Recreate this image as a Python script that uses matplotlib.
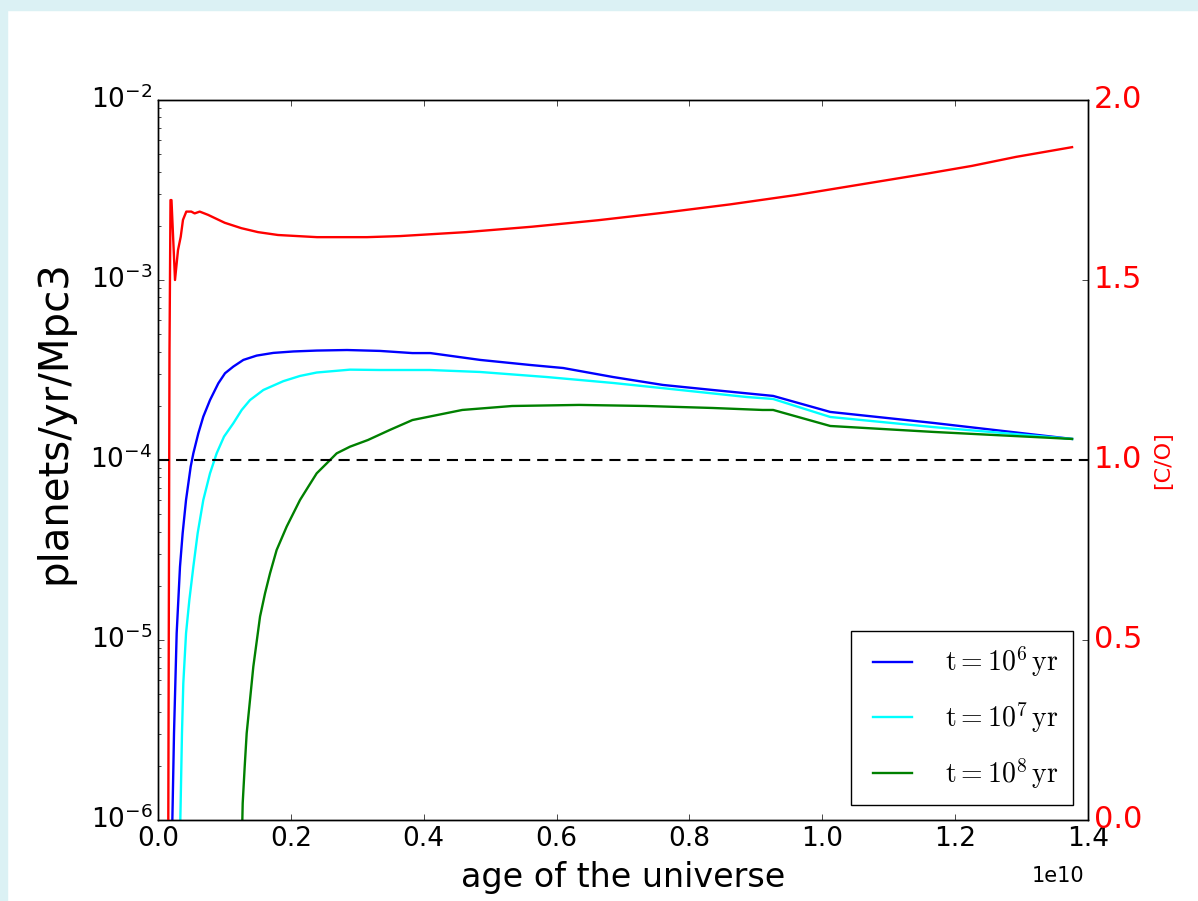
import numpy as np
import matplotlib
matplotlib.use("Agg")
import matplotlib.pyplot as plt
from matplotlib.patches import Rectangle

plt.style.use("classic")
plt.rcParams.update({"mathtext.fontset": "cm", "axes.unicode_minus": False,
                     "font.family": "DejaVu Sans"})

# age of the universe in units of 1e10 yr, rate as log10(planets/yr/Mpc3)
t6_age = [0.020, 0.0221, 0.0241, 0.0281, 0.0331, 0.0371, 0.0422, 0.0492, 0.0532,
          0.0607, 0.0682, 0.0783, 0.0908, 0.1009, 0.1134, 0.1285, 0.1485, 0.1736,
          0.2037, 0.2389, 0.2845, 0.3342, 0.383, 0.41, 0.485, 0.560, 0.610, 0.685,
          0.760, 0.835, 0.926, 1.012, 1.167, 1.376]
t6_log = [-6.3, -5.907, -5.518, -4.963, -4.593, -4.407, -4.222, -4.037, -3.963,
          -3.852, -3.759, -3.667, -3.574, -3.518, -3.481, -3.444, -3.42, -3.405,
          -3.397, -3.392, -3.389, -3.394, -3.406, -3.406, -3.444, -3.472, -3.489,
          -3.539, -3.583, -3.611, -3.644, -3.733, -3.794, -3.883]

t7_age = [0.032, 0.0341, 0.0361, 0.0381, 0.0422, 0.0472, 0.0532, 0.0597, 0.0682,
          0.0783, 0.0883, 0.0994, 0.1134, 0.126, 0.1385, 0.1586, 0.1887, 0.2138,
          0.2389, 0.289, 0.334, 0.409, 0.485, 0.585, 0.685, 0.786, 0.886, 0.926,
          1.012, 1.167, 1.376]
t7_log = [-6.3, -5.907, -5.518, -5.241, -4.963, -4.778, -4.593, -4.407, -4.222,
          -4.074, -3.963, -3.87, -3.796, -3.722, -3.667, -3.611, -3.562, -3.533,
          -3.514, -3.498, -3.50, -3.50, -3.511, -3.539, -3.572, -3.611, -3.65,
          -3.661, -3.761, -3.817, -3.883]

t8_age = [0.124, 0.1275, 0.1305, 0.1335, 0.1385, 0.1435, 0.1536, 0.1611, 0.1686,
          0.1786, 0.1937, 0.2138, 0.2263, 0.2389, 0.2539, 0.269, 0.289, 0.316,
          0.349, 0.383, 0.458, 0.533, 0.634, 0.735, 0.835, 0.910, 0.926, 1.012,
          1.167, 1.376]
t8_log = [-6.5, -5.907, -5.704, -5.518, -5.333, -5.148, -4.870, -4.741, -4.630,
          -4.5, -4.370, -4.222, -4.148, -4.074, -4.019, -3.963, -3.926, -3.889,
          -3.833, -3.778, -3.722, -3.70, -3.694, -3.70, -3.711, -3.722, -3.722,
          -3.811, -3.844, -3.883]

co_age = [0.0155, 0.0173, 0.0188, 0.0203, 0.0256, 0.0301, 0.0342, 0.0376, 0.0426,
          0.0501, 0.0552, 0.0628, 0.0753, 0.1004, 0.1254, 0.1505, 0.1806, 0.2394,
          0.3146, 0.3643, 0.4637, 0.563, 0.6624, 0.7617, 0.8611, 0.9604, 1.0598,
          1.1592, 1.2254, 1.2917, 1.376]
co_val = [0.0, 1.3, 1.722, 1.722, 1.5, 1.583, 1.62, 1.667, 1.69, 1.69, 1.685,
          1.69, 1.681, 1.659, 1.644, 1.633, 1.625, 1.619, 1.619, 1.622, 1.633,
          1.648, 1.666, 1.687, 1.710, 1.736, 1.766, 1.796, 1.817, 1.842, 1.869]

series = [(t6_age, t6_log, "#0000FF", r"$\mathrm{t=10^6\,yr}$"),
          (t7_age, t7_log, "#00FFFF", r"$\mathrm{t=10^7\,yr}$"),
          (t8_age, t8_log, "#008000", r"$\mathrm{t=10^8\,yr}$")]

fig = plt.figure(figsize=(11.98, 9.01), dpi=100, facecolor="white")
fig.patches.append(Rectangle((0, 1 - 10 / 901), 1, 10 / 901, transform=fig.transFigure,
                             color="#DBF1F4", zorder=0))
fig.patches.append(Rectangle((0, 0), 7 / 1198, 1, transform=fig.transFigure,
                             color="#DBF1F4", zorder=0))
ax = fig.add_axes([158 / 1198, 81 / 901, 930 / 1198, 720 / 901])

for age, lg, col, lab in series:
    ax.plot(np.array(age) * 1e10, 10 ** np.array(lg), color=col, lw=1.7, label=lab)
ax.set_yscale("log")
ax.set_ylim(1e-6, 1e-2)
ax.set_xlim(0, 1.4e10)
ax.set_xlabel("age of the universe", fontsize=24, labelpad=7)
ax.set_ylabel("planets/yr/Mpc3", fontsize=29)
ax.yaxis.set_label_coords(-0.09, 0.553)
ax.tick_params(labelsize=19)
ax.xaxis.get_offset_text().set_visible(False)
fig.text(1058 / 1198, 1 - 876 / 901, "1e10", fontsize=15, ha="center", va="center")
ax.legend(loc="lower right", fontsize=20, frameon=True, fancybox=False,
          handlelength=2.0, borderpad=0.5, labelspacing=0.75, handletextpad=0.9,
          borderaxespad=0.55)

ax2 = ax.twinx()
ax2.plot(np.array(co_age) * 1e10, co_val, color="#FF0000", lw=1.7)
ax2.axhline(1.0, color="black", ls="--", lw=1.5, dashes=(8, 5))
ax2.set_ylim(0, 2.0)
ax2.set_yticks([0.0, 0.5, 1.0, 1.5, 2.0])
ax2.set_ylabel("[C/O]", color="#FF0000", fontsize=16, labelpad=8)
ax2.tick_params(axis="y", labelcolor="#FF0000", labelsize=22)
ax2.set_xlim(0, 1.4e10)

fig.savefig("out.png", dpi=100, facecolor="white")
